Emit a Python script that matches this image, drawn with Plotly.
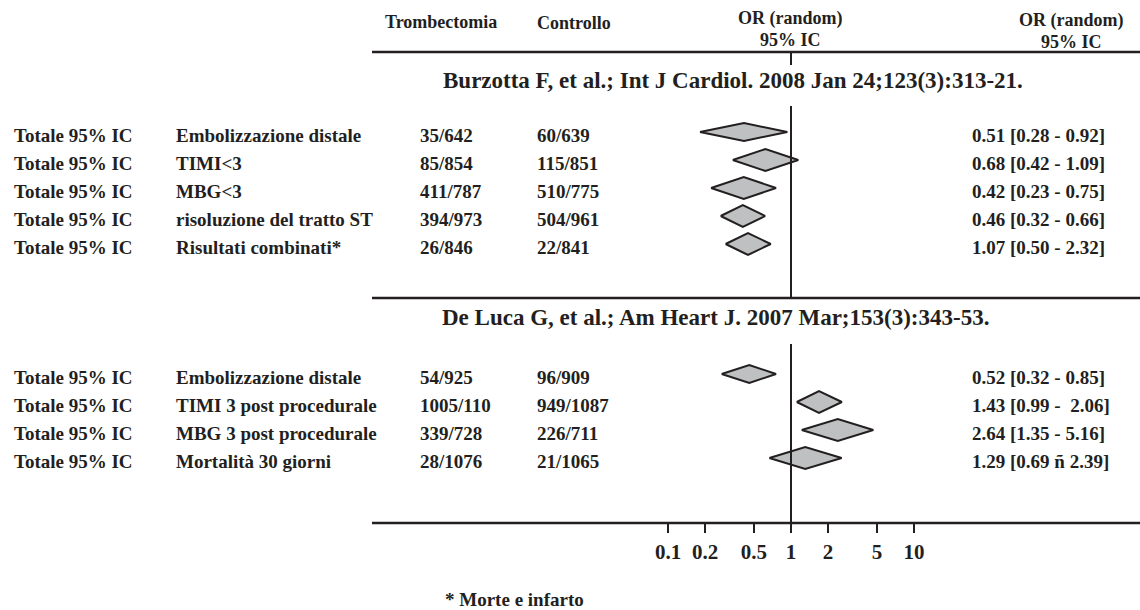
import plotly.graph_objects as go

# ---------------- data ----------------
headers_left = ["Trombectomia", "Controllo"]
header_or = ["OR (random)", "95% IC"]

sec1_title = "Burzotta F, et al.; Int J Cardiol. 2008 Jan 24;123(3):313-21."
sec1_labels = ["Embolizzazione distale", "TIMI&lt;3", "MBG&lt;3",
               "risoluzione del tratto ST", "Risultati combinati*"]
sec1_trombo = ["35/642", "85/854", "411/787", "394/973", "26/846"]
sec1_ctrl = ["60/639", "115/851", "510/775", "504/961", "22/841"]
sec1_or_text = ["0.51 [0.28 - 0.92]", "0.68 [0.42 - 1.09]", "0.42 [0.23 - 0.75]",
                "0.46 [0.32 - 0.66]", "1.07 [0.50 - 2.32]"]
# diamonds as drawn in the picture (OR scale)
sec1_or = [0.415, 0.62, 0.413, 0.406, 0.447]
sec1_lo = [0.182, 0.336, 0.224, 0.268, 0.294]
sec1_hi = [0.933, 1.146, 0.755, 0.615, 0.684]

sec2_title = "De Luca G, et al.; Am Heart J. 2007 Mar;153(3):343-53."
sec2_labels = ["Embolizzazione distale", "TIMI 3 post procedurale",
               "MBG 3 post procedurale", "Mortalità 30 giorni"]
sec2_trombo = ["54/925", "1005/110", "339/728", "28/1076"]
sec2_ctrl = ["96/909", "949/1087", "226/711", "21/1065"]
sec2_or_text = ["0.52 [0.32 - 0.85]", "1.43 [0.99 -&nbsp; 2.06]", "2.64 [1.35 - 5.16]",
                "1.29 [0.69 ñ 2.39]"]
sec2_or = [0.458, 1.69, 2.40, 1.306]
sec2_lo = [0.273, 1.114, 1.222, 0.667]
sec2_hi = [0.755, 2.59, 4.67, 2.58]

row_prefix = "Totale 95% IC"
tick_vals = [0.1, 0.2, 0.5, 1, 2, 5, 10]
tick_text = ["0.1", "0.2", "0.5", "1", "2", "5", "10"]
footnote = "* Morte e infarto"

# ---------------- layout constants ----------------
W, H = 1140, 610
ONE_PX = 791.0
PX_DECADE = 123.0
AXIS_Y = 523
LINE_X0 = 372
FONT = "Liberation Serif"
TXT = "#231f20"
LINE = "#231f20"
FILL = "#bfc0c2"

SEC1_Y0, SEC2_Y0, ROW_STEP = 135, 377, 28
DIAMOND_SHIFT = -3
HALF_H, FIRST_HALF_H = 11, 9

COL_PREFIX, COL_LABEL, COL_T, COL_C, COL_OR = 12, 174, 418, 535, 970

fig = go.Figure()


def px(xp):
    return xp / W


def add_text(x, y, text, size=19, anchor="left"):
    fig.add_annotation(x=px(x), y=y, xref="paper", yref="y", text=text,
                       showarrow=False, xanchor=anchor, yanchor="middle",
                       font=dict(family=FONT, size=size, color=TXT, weight="bold"))


def add_section(y0, labels, trombo, ctrl, or_text, orv, lo, hi):
    for i in range(len(labels)):
        y = y0 + i * ROW_STEP
        add_text(COL_PREFIX, y, row_prefix)
        add_text(COL_LABEL, y, labels[i])
        add_text(COL_T, y, trombo[i])
        add_text(COL_C, y, ctrl[i])
        add_text(COL_OR, y, or_text[i])
        yd = y + DIAMOND_SHIFT
        h = FIRST_HALF_H if i == 0 else HALF_H
        fig.add_trace(go.Scatter(
            x=[lo[i], orv[i], hi[i], orv[i], lo[i]],
            y=[yd, yd - h, yd, yd + h, yd],
            mode="lines", fill="toself", fillcolor=FILL,
            line=dict(color=LINE, width=2), hoverinfo="skip", showlegend=False))


# vertical line of no effect
for (ya, yb) in [(52, 65), (106, 298), (344, AXIS_Y)]:
    fig.add_shape(type="line", xref="x", yref="y", x0=1, x1=1, y0=ya, y1=yb,
                  line=dict(color=LINE, width=2))

# horizontal rules
for yy in [52, 298, AXIS_Y]:
    fig.add_shape(type="line", xref="paper", yref="y", x0=px(LINE_X0), x1=1,
                  y0=yy, y1=yy, line=dict(color=LINE, width=2.5))

# headers
add_text(383, 22, headers_left[0], size=18)
add_text(535, 23, headers_left[1], size=18)
add_text(790, 18, header_or[0], size=18, anchor="center")
add_text(790, 40, header_or[1], size=18, anchor="center")
add_text(1071, 20, header_or[0], size=18, anchor="center")
add_text(1071, 42, header_or[1], size=18, anchor="center")

# titles
add_text(733, 80, sec1_title, size=23, anchor="center")
add_text(715, 317, sec2_title, size=23, anchor="center")

add_section(SEC1_Y0, sec1_labels, sec1_trombo, sec1_ctrl, sec1_or_text,
            sec1_or, sec1_lo, sec1_hi)
add_section(SEC2_Y0, sec2_labels, sec2_trombo, sec2_ctrl, sec2_or_text,
            sec2_or, sec2_lo, sec2_hi)

add_text(443, 599, footnote, size=19)

fig.update_layout(
    width=W, height=H, margin=dict(l=0, r=0, t=0, b=0),
    paper_bgcolor="white", plot_bgcolor="white", showlegend=False,
    xaxis=dict(type="log", domain=[0, 1],
               range=[(0 - ONE_PX) / PX_DECADE, (W - ONE_PX) / PX_DECADE],
               tickvals=tick_vals, ticktext=tick_text,
               ticks="outside", ticklen=9, tickwidth=2, tickcolor=LINE,
               showline=False, showgrid=False, zeroline=False,
               anchor="free", position=(H - AXIS_Y) / H, side="bottom",
               ticklabelstandoff=1,
               tickfont=dict(family=FONT, size=21, color=TXT, weight="bold")),
    yaxis=dict(range=[H, 0], domain=[0, 1], visible=False,
               showgrid=False, zeroline=False),
)

fig.write_html("out.html")
